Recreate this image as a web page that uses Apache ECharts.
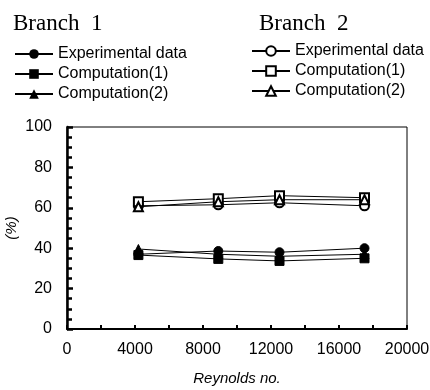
<!DOCTYPE html>
<html>
<head>
<meta charset="utf-8">
<script src="https://cdn.jsdelivr.net/npm/echarts@6/dist/echarts.min.js"></script>
<style>
  html, body { margin: 0; padding: 0; background: #fff; }
  #chart { width: 430px; height: 390px; }
</style>
</head>
<body>
<div id="chart"></div>
<script>
  // Reynolds numbers of the measured points
  var reynolds = [4200, 8900, 12500, 17500];

  // Branch 1 (filled markers)
  var b1Exp = [37, 38.6, 38, 40];
  var b1Comp1 = [36.6, 34.7, 33.7, 35];
  var b1Comp2 = [39.6, 37, 36, 37];

  // Branch 2 (hollow markers)
  var b2Exp = [61, 61.5, 62.5, 61];
  var b2Comp1 = [63, 64.5, 66, 65];
  var b2Comp2 = [60.5, 63, 64, 64];

  var xTicks = [0, 4000, 8000, 12000, 16000, 20000];
  var yTicks = [0, 20, 40, 60, 80, 100];

  function pairs(ys) {
    return reynolds.map(function (x, i) { return [x, ys[i]]; });
  }

  function line(name, ys, symbol) {
    return {
      name: name,
      type: 'line',
      data: pairs(ys),
      symbol: symbol,
      symbolSize: 9,
      color: '#000',
      lineStyle: { color: '#000', width: 1 },
      itemStyle: { color: '#000', borderColor: '#000' },
      emphasis: { disabled: true }
    };
  }

  var sans = 'Liberation Sans, Arial, sans-serif';
  var legendText = { color: '#000', fontSize: 16, fontFamily: sans };
  var stripPrefix = function (name) { return name.slice(3); };

  var myChart = echarts.init(document.getElementById('chart'));
  myChart.setOption({
    animation: false,
    textStyle: { fontFamily: sans },
    graphic: [
      { type: 'text', left: 13, top: 12, style: { text: 'Branch  1', fontFamily: 'Liberation Serif, serif', fontSize: 23, fill: '#000' } },
      { type: 'text', left: 259, top: 12, style: { text: 'Branch  2', fontFamily: 'Liberation Serif, serif', fontSize: 23, fill: '#000' } }
    ],
    legend: [
      {
        orient: 'vertical', left: 9, top: 41, itemWidth: 38, itemHeight: 12, itemGap: 4,
        data: ['b1 Experimental data', 'b1 Computation(1)', 'b1 Computation(2)'],
        formatter: stripPrefix, textStyle: legendText
      },
      {
        orient: 'vertical', left: 246, top: 38, itemWidth: 38, itemHeight: 12, itemGap: 4,
        data: ['b2 Experimental data', 'b2 Computation(1)', 'b2 Computation(2)'],
        formatter: stripPrefix, textStyle: legendText
      }
    ],
    grid: {
      left: 67, right: 23, top: 127, bottom: 61,
      outerBoundsMode: 'none', containLabel: false,
      show: true, borderColor: '#000', borderWidth: 1, backgroundColor: 'transparent'
    },
    xAxis: {
      type: 'value', min: xTicks[0], max: xTicks[xTicks.length - 1], interval: 4000,
      name: 'Reynolds no.', nameLocation: 'middle', nameGap: 42, nameMoveOverlap: false,
      nameTextStyle: { color: '#000', fontSize: 15, fontStyle: 'italic' },
      axisLine: { lineStyle: { color: '#000', width: 2 } },
      axisTick: { show: true, inside: true, length: 4, lineStyle: { color: '#000', width: 2 } },
      minorTick: { show: true, splitNumber: 2, length: 4, lineStyle: { color: '#000', width: 2 } },
      axisLabel: { color: '#000', fontSize: 16, margin: 13, formatter: function (v) { return String(v); } },
      splitLine: { show: false }
    },
    yAxis: {
      type: 'value', min: yTicks[0], max: yTicks[yTicks.length - 1], interval: 20,
      name: '(%)', nameLocation: 'middle', nameGap: 48, nameRotate: 90, nameMoveOverlap: false,
      nameTextStyle: { color: '#000', fontSize: 15, fontStyle: 'italic' },
      axisLine: { show: true, lineStyle: { color: '#000', width: 2.5 } },
      axisTick: { show: true, inside: true, length: 6, lineStyle: { color: '#000', width: 2.5 } },
      minorTick: { show: true, splitNumber: 4, length: 5, lineStyle: { color: '#000', width: 2.5 } },
      axisLabel: { color: '#000', fontSize: 16, margin: 15 },
      splitLine: { show: false }
    },
    series: [
      line('b1 Experimental data', b1Exp, 'circle'),
      line('b1 Computation(1)', b1Comp1, 'rect'),
      line('b1 Computation(2)', b1Comp2, 'triangle'),
      line('b2 Experimental data', b2Exp, 'emptyCircle'),
      line('b2 Computation(1)', b2Comp1, 'emptyRect'),
      line('b2 Computation(2)', b2Comp2, 'emptyTriangle')
    ]
  });
</script>
</body>
</html>
